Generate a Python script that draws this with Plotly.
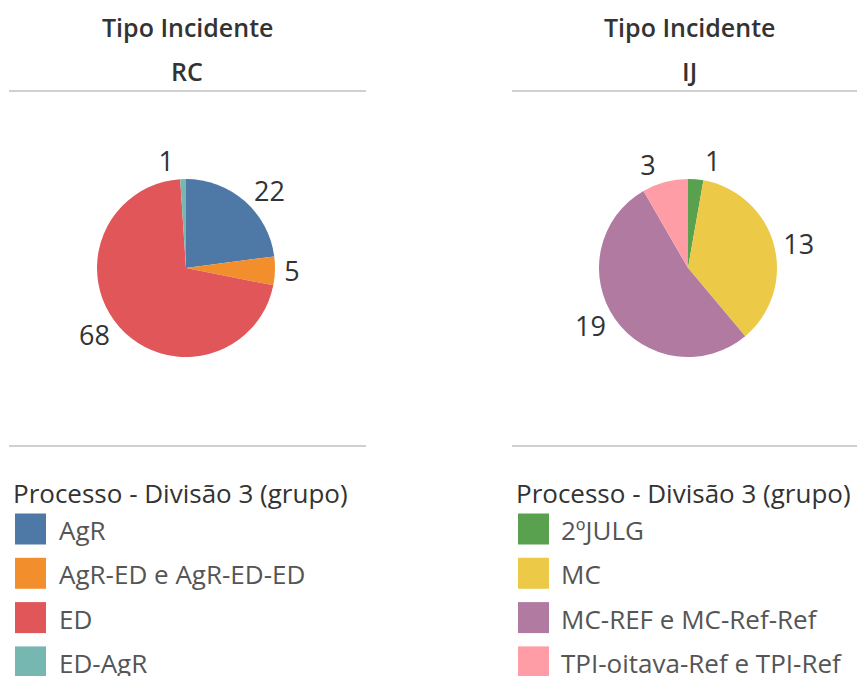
import plotly.graph_objects as go

# The page body has an 8px margin, so the figure is drawn in reference
# pixel space shifted by OFF.
OFF = 8
W, H = 865 - OFF, 676 - OFF

# ---- data ----
panel_header = "Tipo Incidente"
panels = ["RC", "IJ"]
legend_title = "Processo - Divisão 3 (grupo)"

rc_labels = ["AgR", "AgR-ED e AgR-ED-ED", "ED", "ED-AgR"]
rc_values = [22, 5, 68, 1]
rc_colors = ["#4e79a7", "#f28e2b", "#e15759", "#76b7b2"]

ij_labels = ["2ºJULG", "MC", "MC-REF e MC-Ref-Ref", "TPI-oitava-Ref e TPI-Ref"]
ij_values = [1, 13, 19, 3]
ij_colors = ["#59a14f", "#edc948", "#b07aa1", "#ff9da7"]

FONT = "Open Sans"
TXT = "#333333"


def px(x):
    return (x - OFF) / W


def py(y):
    return 1 - (y - OFF) / H


fig = go.Figure()

panel_specs = [
    dict(name=panels[0], labels=rc_labels, values=rc_values, colors=rc_colors,
         cx=186, x0=9, x1=366, lx=11, sq=15, tx=57),
    dict(name=panels[1], labels=ij_labels, values=ij_values, colors=ij_colors,
         cx=688, x0=512, x1=866, lx=514, sq=518, tx=559),
]

cy = 268
half = 89
for p in panel_specs:
    fig.add_trace(go.Pie(
        labels=p["labels"], values=p["values"],
        marker=dict(colors=p["colors"], line=dict(width=0)),
        sort=False, direction="clockwise", rotation=0,
        textinfo="value", textposition="outside",
        textfont=dict(family=FONT, size=27, color=TXT),
        domain=dict(x=[px(p["cx"] - half), px(p["cx"] + half)],
                    y=[py(cy + half), py(cy - half)]),
        showlegend=False, hoverinfo="label+value",
    ))
    # headers
    fig.add_annotation(x=px(p["cx"] + 1), y=py(27), xref="paper", yref="paper",
                       text=panel_header, showarrow=False,
                       font=dict(family=FONT, size=25, color=TXT, weight=600),
                       xanchor="center", yanchor="middle")
    fig.add_annotation(x=px(p["cx"] + 1), y=py(71), xref="paper", yref="paper",
                       text=p["name"], showarrow=False,
                       font=dict(family=FONT, size=25, color=TXT, weight=600),
                       xanchor="center", yanchor="middle")
    # separators
    for yy in (91, 446):
        fig.add_shape(type="line", xref="paper", yref="paper",
                      x0=px(p["x0"]), x1=px(p["x1"]), y0=py(yy), y1=py(yy),
                      line=dict(color="#d0d0d0", width=2))
    # legend
    fig.add_annotation(x=px(p["lx"]), y=py(493), xref="paper", yref="paper",
                       text=legend_title, showarrow=False,
                       font=dict(family=FONT, size=26, color=TXT),
                       xanchor="left", yanchor="middle")
    for i, (lab, col) in enumerate(zip(p["labels"], p["colors"])):
        yc = 529 + i * 44.3
        fig.add_shape(type="rect", xref="paper", yref="paper",
                      x0=px(p["sq"]), x1=px(p["sq"] + 31),
                      y0=py(yc + 15.5), y1=py(yc - 15.5),
                      fillcolor=col, line=dict(width=0))
        fig.add_annotation(x=px(p["tx"]), y=py(yc + 1), xref="paper", yref="paper",
                           text=lab, showarrow=False,
                           font=dict(family=FONT, size=26, color="#555555"),
                           xanchor="left", yanchor="middle")

fig.update_layout(
    width=W, height=H,
    margin=dict(l=0, r=0, t=0, b=0),
    paper_bgcolor="white", plot_bgcolor="white",
)

fig.write_html("out.html")
